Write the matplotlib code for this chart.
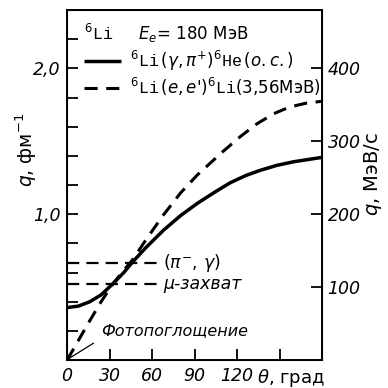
import matplotlib
matplotlib.use("Agg")
import matplotlib.pyplot as plt

plt.rcParams['font.family'] = ['DejaVu Sans']
plt.rcParams['mathtext.fontset'] = 'custom'
plt.rcParams['mathtext.rm'] = 'DejaVu Sans'
plt.rcParams['mathtext.it'] = 'DejaVu Sans:italic'
plt.rcParams['mathtext.bf'] = 'DejaVu Sans:bold'
plt.rcParams['mathtext.tt'] = 'Liberation Mono'
plt.rcParams['mathtext.sf'] = 'DejaVu Sans'

# data
theta_photo = [0, 8, 16, 24, 32.5, 40, 46, 55, 68, 80, 92, 104, 115, 126, 136, 148, 160, 170, 180]
q_photo = [0.36, 0.37, 0.40, 0.447, 0.525, 0.60, 0.67, 0.765, 0.89, 0.99, 1.075, 1.15,
           1.215, 1.265, 1.30, 1.335, 1.36, 1.375, 1.39]
theta_ee = [0, 8, 16, 24, 32.5, 40, 46, 55, 60, 68, 80, 92, 101, 110, 122, 134, 146, 157, 168, 180]
q_ee = [0.0, 0.135, 0.27, 0.40, 0.525, 0.615, 0.685, 0.815, 0.885, 0.995, 1.145, 1.27, 1.35,
        1.43, 1.53, 1.62, 1.69, 1.735, 1.76, 1.775]
q_pi_gamma = 0.667
q_mu = 0.52
hline_end = 66
x_ticks = [0, 30, 60, 90, 120, 150, 180]
x_ticklabels = ['0', '30', '60', '90', '120', '', '']
y_ticks = [0.2, 0.4, 0.6, 0.8, 1.0, 1.2, 1.4, 1.6, 1.8, 2.0, 2.2]
y_ticklabels = ['', '', '', '', '1,0', '', '', '', '', '2,0', '']
r_ticks = [100, 200, 300, 400]
MEV_PER_FM = 200.0

fig = plt.figure(figsize=(3.88, 3.88), dpi=100)
ax = fig.add_axes([0.173, 0.072, 0.657, 0.902])

ax.plot(theta_photo, q_photo, color='black', lw=2.5, solid_capstyle='butt',
        label=r'$^{6}\mathtt{Li}\,(\gamma,\pi^{+})^{6}\mathtt{He}\,(o.c.)$')
ax.plot(theta_ee, q_ee, color='black', lw=2.2, dashes=(4.3, 2.8),
        label=r"$^{6}\mathtt{Li}\,(e,e$'$)^{6}\mathtt{Li}(3{,}56$МэВ)")
ax.plot([0, hline_end], [q_pi_gamma, q_pi_gamma], color='black', lw=1.6, dashes=(5.5, 3.2))
ax.plot([0, hline_end], [q_mu, q_mu], color='black', lw=1.6, dashes=(5.5, 3.2))

ax.text(hline_end + 2, q_pi_gamma, r'$(\pi^{-},\,\gamma)$', fontsize=12.5, va='center', ha='left')
ax.text(hline_end + 2, q_mu, 'μ-захват', fontsize=12.5, va='center', ha='left', style='italic')

# photoabsorption annotation
ax.plot([1.5, 18.5], [0.012, 0.115], color='black', lw=0.9)
ax.text(24, 0.205, 'Фотопоглощение', fontsize=11.5, style='italic', va='center', ha='left')

ax.set_xlim(0, 180)
ax.set_ylim(0, 2.4)
ax.set_xticks(x_ticks)
ax.set_xticklabels(x_ticklabels, fontsize=12.5, style='italic')
ax.set_yticks(y_ticks)
ax.set_yticklabels(y_ticklabels, fontsize=12.5, style='italic')
ax.tick_params(direction='in', length=8, width=1.3, pad=5)
for s in ax.spines.values():
    s.set_linewidth(1.4)

ax.text(134, -0.045, r'$\theta$, град', fontsize=13, ha='left', va='top')
ax.set_ylabel(r'$q$, фм$^{-1}$', fontsize=13.5, labelpad=0)
ax.yaxis.set_label_coords(-0.11, 0.6)

ax2 = ax.twinx()
ax2.set_ylim(0, 2.4 * MEV_PER_FM)
ax2.set_yticks(r_ticks)
ax2.set_yticklabels([str(v) for v in r_ticks], fontsize=12.5, style='italic')
ax2.tick_params(direction='in', length=8, width=1.3, pad=4)
ax2.set_ylabel(r'$q$, МэВ/с', fontsize=14, labelpad=2)
ax2.yaxis.set_label_coords(1.155, 0.53)

leg = ax.legend(loc='upper left', bbox_to_anchor=(0.04, 0.985), frameon=False,
                fontsize=12, handlelength=2.2, handletextpad=0.55, labelspacing=0.2,
                borderaxespad=0, title=r'$^{6}\mathtt{Li}$     $E_e$= 180 МэВ', title_fontsize=12)
leg._legend_box.align = 'left'

fig.savefig('out.png', dpi=100)
